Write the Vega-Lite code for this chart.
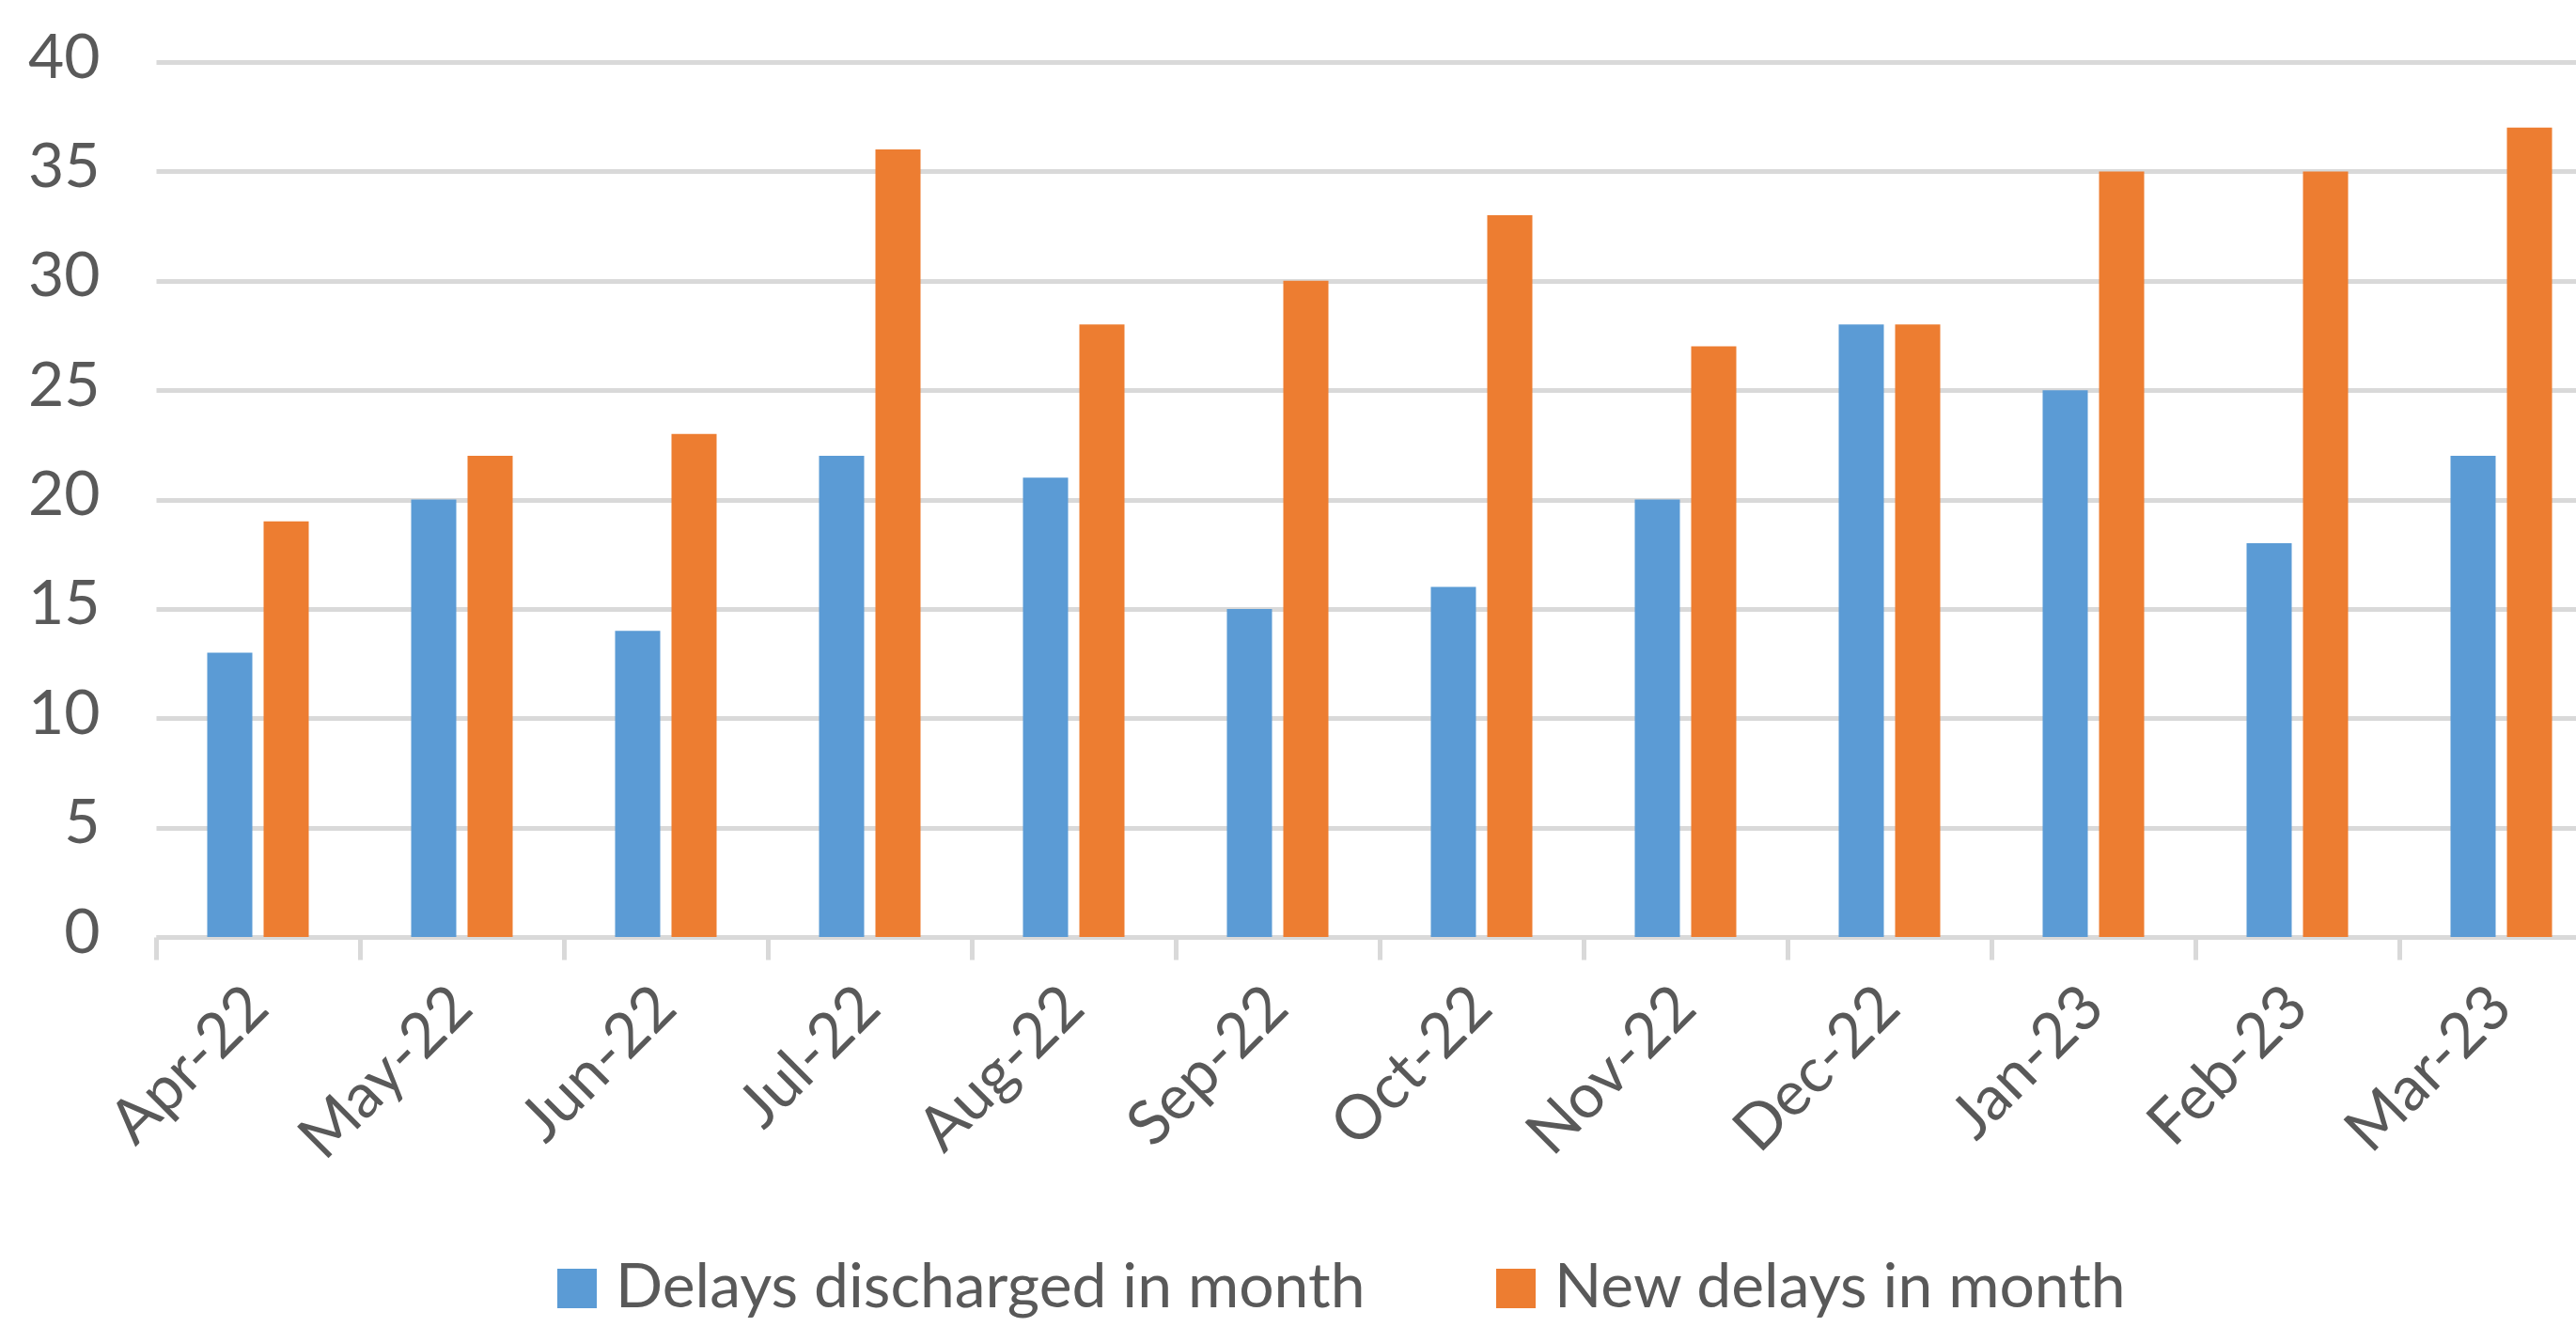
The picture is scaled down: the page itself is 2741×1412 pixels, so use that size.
{
  "$schema": "https://vega.github.io/schema/vega-lite/v6.json",
  "width": 2575,
  "height": 931,
  "autosize": {"type": "none"},
  "padding": {"left": 166, "top": 66, "right": 0, "bottom": 415},
  "background": "white",
  "config": {"view": {"stroke": null}, "font": "Lato"},
  "data": {
    "values": [
      {"month": "Apr-22", "series": "Delays discharged in month", "value": 13},
      {"month": "Apr-22", "series": "New delays in month", "value": 19},
      {"month": "May-22", "series": "Delays discharged in month", "value": 20},
      {"month": "May-22", "series": "New delays in month", "value": 22},
      {"month": "Jun-22", "series": "Delays discharged in month", "value": 14},
      {"month": "Jun-22", "series": "New delays in month", "value": 23},
      {"month": "Jul-22", "series": "Delays discharged in month", "value": 22},
      {"month": "Jul-22", "series": "New delays in month", "value": 36},
      {"month": "Aug-22", "series": "Delays discharged in month", "value": 21},
      {"month": "Aug-22", "series": "New delays in month", "value": 28},
      {"month": "Sep-22", "series": "Delays discharged in month", "value": 15},
      {"month": "Sep-22", "series": "New delays in month", "value": 30},
      {"month": "Oct-22", "series": "Delays discharged in month", "value": 16},
      {"month": "Oct-22", "series": "New delays in month", "value": 33},
      {"month": "Nov-22", "series": "Delays discharged in month", "value": 20},
      {"month": "Nov-22", "series": "New delays in month", "value": 27},
      {"month": "Dec-22", "series": "Delays discharged in month", "value": 28},
      {"month": "Dec-22", "series": "New delays in month", "value": 28},
      {"month": "Jan-23", "series": "Delays discharged in month", "value": 25},
      {"month": "Jan-23", "series": "New delays in month", "value": 35},
      {"month": "Feb-23", "series": "Delays discharged in month", "value": 18},
      {"month": "Feb-23", "series": "New delays in month", "value": 35},
      {"month": "Mar-23", "series": "Delays discharged in month", "value": 22},
      {"month": "Mar-23", "series": "New delays in month", "value": 37}
    ]
  },
  "mark": {"type": "bar"},
  "encoding": {
    "x": {
      "field": "month",
      "type": "nominal",
      "sort": null,
      "scale": {"range": [0, 2604], "paddingInner": 0, "paddingOuter": 0},
      "axis": {
        "title": null,
        "grid": false,
        "domain": true,
        "domainColor": "#d9d9d9",
        "domainWidth": 5,
        "ticks": true,
        "tickBand": "extent",
        "tickColor": "#d9d9d9",
        "tickWidth": 5,
        "tickSize": 24,
        "labelAngle": -45,
        "labelAlign": "right",
        "labelBaseline": "middle",
        "labelFontSize": 66,
        "labelColor": "#595959",
        "labelPadding": 40,
        "labelLimit": 0,
        "labelOverlap": false
      }
    },
    "xOffset": {
      "field": "series",
      "type": "nominal",
      "sort": ["Delays discharged in month", "New delays in month"],
      "scale": {"paddingInner": 0.2, "paddingOuter": 0.908}
    },
    "y": {
      "field": "value",
      "type": "quantitative",
      "scale": {"domain": [0, 40]},
      "axis": {
        "title": null,
        "values": [0, 5, 10, 15, 20, 25, 30, 35, 40],
        "domain": false,
        "ticks": false,
        "grid": true,
        "gridColor": "#d9d9d9",
        "gridWidth": 5,
        "labelFontSize": 66,
        "labelColor": "#595959",
        "labelPadding": 60,
        "labelOffset": -4
      }
    },
    "color": {
      "field": "series",
      "type": "nominal",
      "scale": {
        "domain": ["Delays discharged in month", "New delays in month"],
        "range": ["#5B9BD5", "#ED7D31"]
      },
      "legend": {
        "orient": "none",
        "legendX": 415,
        "legendY": 1272,
        "direction": "horizontal",
        "title": null,
        "symbolType": "square",
        "symbolSize": 1764,
        "symbolStrokeWidth": 0,
        "symbolOpacity": 1,
        "labelFontSize": 66,
        "labelColor": "#595959",
        "labelOffset": 8,
        "labelLimit": 0,
        "columnPadding": 127,
        "padding": 0
      }
    }
  }
}
